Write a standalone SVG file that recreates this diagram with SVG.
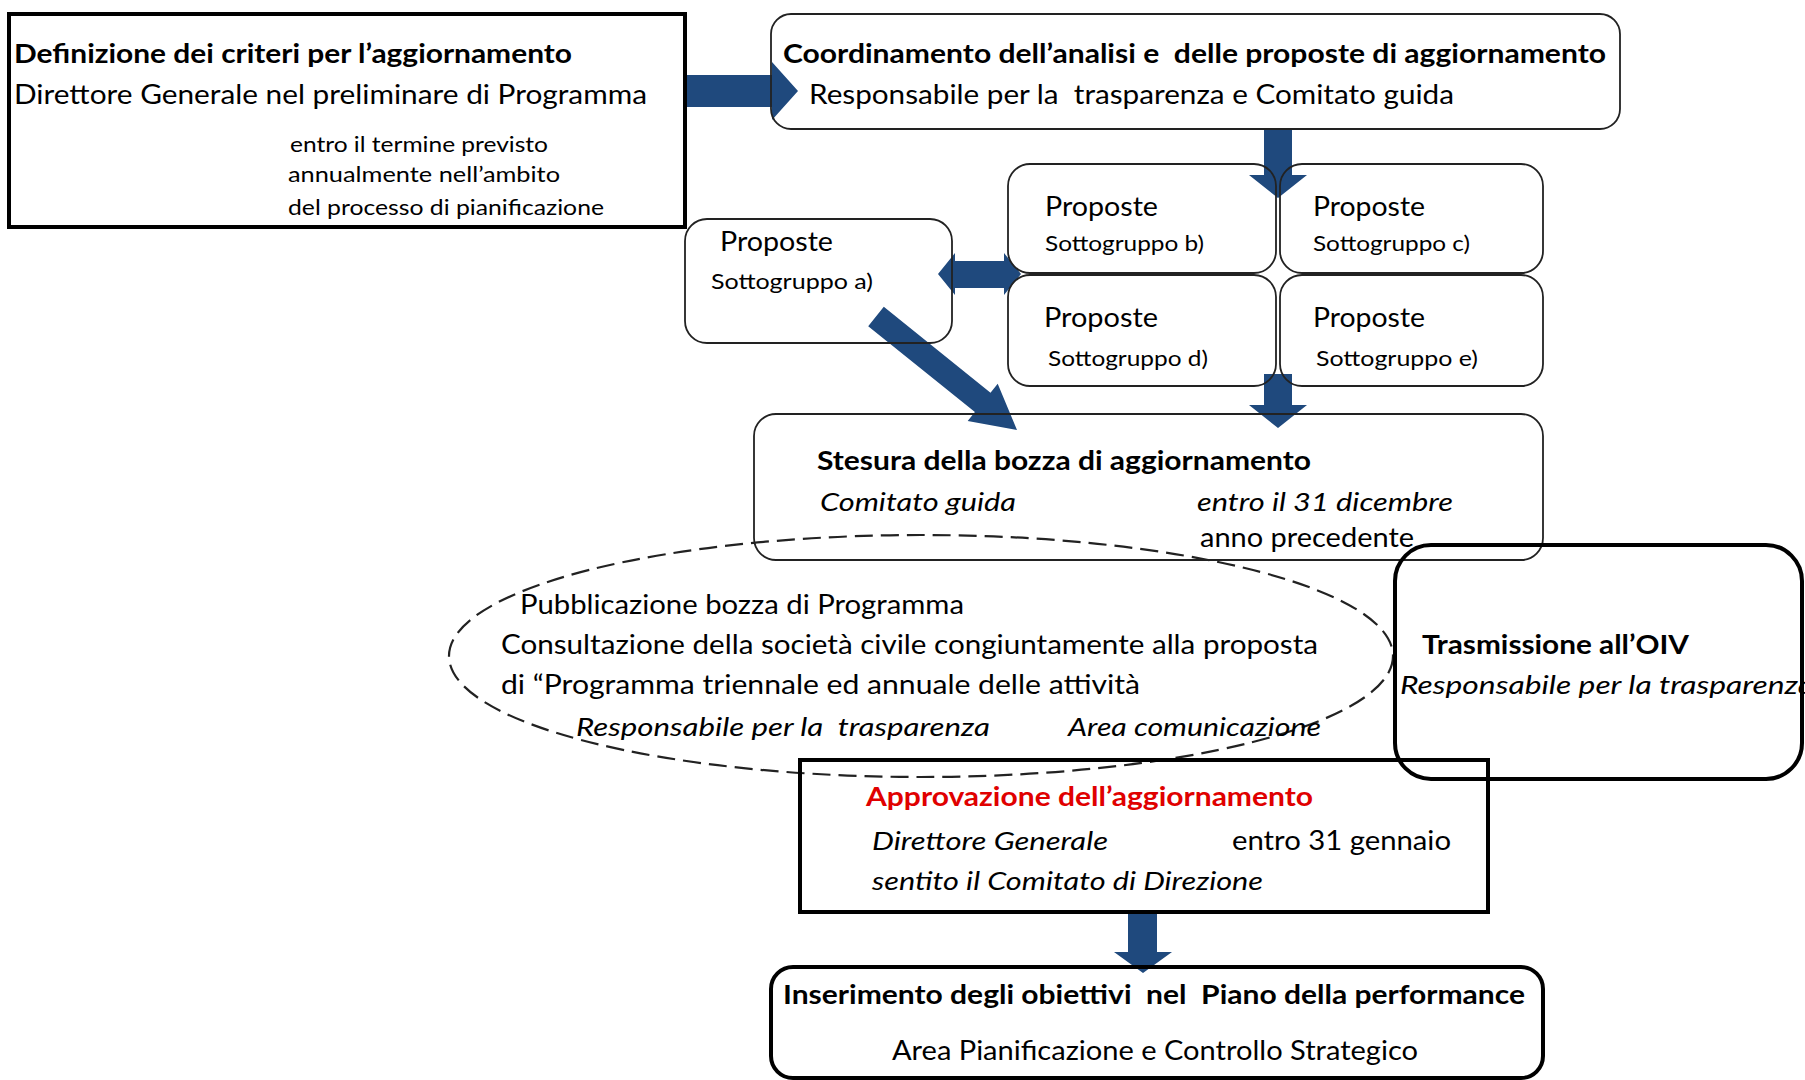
<svg xmlns="http://www.w3.org/2000/svg" width="1805" height="1080" viewBox="0 0 1805 1080">
<style>
text{font-family:Lato,"Liberation Sans",sans-serif;fill:#000}
.m{font-size:26px}
.s{font-size:21px}
.b{font-weight:bold}
.i{font-style:italic}
.pre{white-space:pre}
.red{fill:#E00000}
.thin{fill:none;stroke:#222;stroke-width:1.8}
.thick{fill:none;stroke:#000;stroke-width:4}
.dash{fill:none;stroke:#222;stroke-width:2.2;stroke-dasharray:18 8}
.arr{fill:#1F497D}
</style>
<rect width="1805" height="1080" fill="#fff"/>

<g id="connectors">
  <polygon class="arr" points="687,75 772,75 772,62 798,91 772,120 772,107 687,107"/>
  <polygon class="arr" points="1264,129 1292,129 1292,175 1307,175 1278,198 1249,175 1264,175"/>
  <polygon class="arr" points="938,274 955,253 955,261 1004,261 1004,253 1021,274 1004,295 1004,288 955,288 955,295"/>
  <polygon class="arr" points="883.8,306.8 990.5,392.7 997.7,383.7 1017,430 967.7,421.1 974.9,412.1 868.2,326.2"/>
  <polygon class="arr" points="1264,374 1292,374 1292,405 1307,405 1278,428 1249,405 1264,405"/>
  <polygon class="arr" points="1128,912 1157,912 1157,952 1172,952 1143,973 1114,952 1128,952"/>
</g>

<g id="n-definizione">
  <rect class="thick" x="9" y="14" width="676" height="213"/>
  <text class="m b" x="14" y="63" textLength="558" lengthAdjust="spacingAndGlyphs">Definizione dei criteri per l’aggiornamento</text>
  <text class="m" x="14" y="104" textLength="633" lengthAdjust="spacingAndGlyphs">Direttore Generale nel preliminare di Programma</text>
  <text class="s" x="290" y="152" textLength="258" lengthAdjust="spacingAndGlyphs">entro il termine previsto</text>
  <text class="s" x="288" y="182" textLength="272" lengthAdjust="spacingAndGlyphs">annualmente nell’ambito</text>
  <text class="s" x="288" y="215" textLength="316" lengthAdjust="spacingAndGlyphs">del processo di pianificazione</text>
</g>

<g id="n-coordinamento">
  <rect class="thin" x="771" y="14" width="849" height="115" rx="20"/>
  <text class="m b pre" x="783" y="63" textLength="823" lengthAdjust="spacingAndGlyphs">Coordinamento dell’analisi e  delle proposte di aggiornamento</text>
  <text class="m pre" x="809" y="104" textLength="645" lengthAdjust="spacingAndGlyphs">Responsabile per la  trasparenza e Comitato guida</text>
</g>

<g id="n-sottogruppo-a">
  <rect class="thin" x="685" y="219" width="267" height="124" rx="22"/>
  <text class="m" x="720" y="251" textLength="113" lengthAdjust="spacingAndGlyphs">Proposte</text>
  <text class="s" x="711" y="289" textLength="162" lengthAdjust="spacingAndGlyphs">Sottogruppo a)</text>
</g>

<g id="n-sottogruppo-b">
  <rect class="thin" x="1008" y="164" width="268" height="109" rx="22"/>
  <text class="m" x="1045" y="216" textLength="113" lengthAdjust="spacingAndGlyphs">Proposte</text>
  <text class="s" x="1045" y="251" textLength="159" lengthAdjust="spacingAndGlyphs">Sottogruppo b)</text>
</g>

<g id="n-sottogruppo-c">
  <rect class="thin" x="1280" y="164" width="263" height="109" rx="22"/>
  <text class="m" x="1313" y="216" textLength="112" lengthAdjust="spacingAndGlyphs">Proposte</text>
  <text class="s" x="1313" y="251" textLength="157" lengthAdjust="spacingAndGlyphs">Sottogruppo c)</text>
</g>

<g id="n-sottogruppo-d">
  <rect class="thin" x="1008" y="275" width="268" height="111" rx="22"/>
  <text class="m" x="1044" y="327" textLength="114" lengthAdjust="spacingAndGlyphs">Proposte</text>
  <text class="s" x="1048" y="366" textLength="160" lengthAdjust="spacingAndGlyphs">Sottogruppo d)</text>
</g>

<g id="n-sottogruppo-e">
  <rect class="thin" x="1280" y="275" width="263" height="111" rx="22"/>
  <text class="m" x="1313" y="327" textLength="112" lengthAdjust="spacingAndGlyphs">Proposte</text>
  <text class="s" x="1316" y="366" textLength="162" lengthAdjust="spacingAndGlyphs">Sottogruppo e)</text>
</g>

<g id="n-stesura">
  <rect class="thin" x="754" y="414" width="789" height="146" rx="22"/>
  <text class="m b" x="817" y="470" textLength="494" lengthAdjust="spacingAndGlyphs">Stesura della bozza di aggiornamento</text>
  <text class="m i" x="820" y="511" textLength="196" lengthAdjust="spacingAndGlyphs">Comitato guida</text>
  <text class="m i" x="1197" y="511" textLength="256" lengthAdjust="spacingAndGlyphs">entro il 31 dicembre</text>
  <text class="m" x="1200" y="547" textLength="214" lengthAdjust="spacingAndGlyphs">anno precedente</text>
</g>

<g id="n-pubblicazione">
  <ellipse class="dash" cx="921" cy="656" rx="472" ry="121"/>
  <text class="m" x="520" y="614" textLength="444" lengthAdjust="spacingAndGlyphs">Pubblicazione bozza di Programma</text>
  <text class="m" x="501" y="654" textLength="817" lengthAdjust="spacingAndGlyphs">Consultazione della società civile congiuntamente alla proposta</text>
  <text class="m" x="501" y="694" textLength="639" lengthAdjust="spacingAndGlyphs">di “Programma triennale ed annuale delle attività</text>
  <text class="m i pre" x="576" y="736" textLength="414" lengthAdjust="spacingAndGlyphs">Responsabile per la  trasparenza</text>
  <text class="m i" x="1068" y="736" textLength="253" lengthAdjust="spacingAndGlyphs">Area comunicazione</text>
</g>

<g id="n-trasmissione">
  <rect class="thick" x="1395" y="545" width="407" height="234" rx="36"/>
  <text class="m b" x="1422" y="654" textLength="267" lengthAdjust="spacingAndGlyphs">Trasmissione all’OIV</text>
  <text class="m i" x="1400" y="694" textLength="414" lengthAdjust="spacingAndGlyphs">Responsabile per la trasparenza</text>
</g>

<g id="n-approvazione">
  <rect class="thick" x="800" y="760" width="688" height="152"/>
  <text class="m b red" x="866" y="806" textLength="447" lengthAdjust="spacingAndGlyphs">Approvazione dell’aggiornamento</text>
  <text class="m i" x="872" y="850" textLength="236" lengthAdjust="spacingAndGlyphs">Direttore Generale</text>
  <text class="m" x="1232" y="850" textLength="219" lengthAdjust="spacingAndGlyphs">entro 31 gennaio</text>
  <text class="m i" x="872" y="890" textLength="391" lengthAdjust="spacingAndGlyphs">sentito il Comitato di Direzione</text>
</g>

<g id="n-inserimento">
  <rect class="thick" x="771" y="967" width="772" height="111" rx="22"/>
  <text class="m b pre" x="783" y="1004" textLength="742" lengthAdjust="spacingAndGlyphs">Inserimento degli obiettivi  nel  Piano della performance</text>
  <text class="m" x="892" y="1060" textLength="526" lengthAdjust="spacingAndGlyphs">Area Pianificazione e Controllo Strategico</text>
</g>
</svg>
